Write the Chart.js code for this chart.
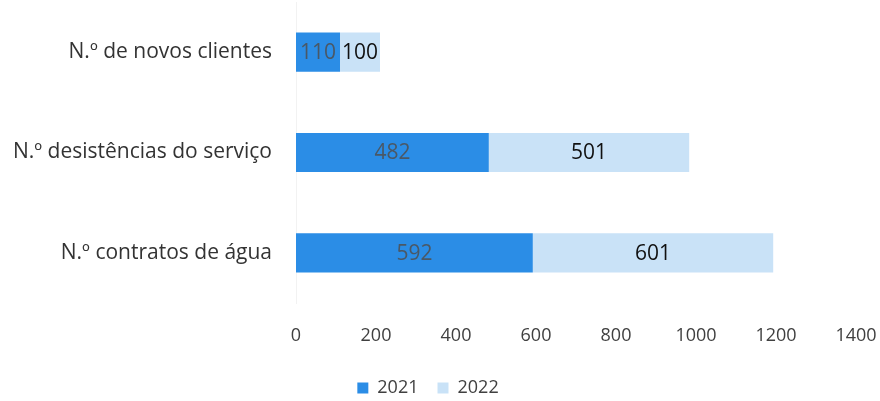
<!DOCTYPE html>
<html>
<head>
<meta charset="utf-8">
<script src="https://cdn.jsdelivr.net/npm/chart.js@4"></script>
<style>
  html, body { margin: 0; padding: 0; background: #fff; }
  #wrap { width: 880px; height: 401px; position: relative; }
</style>
</head>
<body>
<div id="wrap"><canvas id="chart"></canvas></div>
<script>
// Indicadores de clientes — 2021 vs 2022

const categories = ['N.º de novos clientes', 'N.º desistências do serviço', 'N.º contratos de água'];
const values2021 = [110, 482, 592];
const values2022 = [100, 501, 601];
const xTicks     = [0, 200, 400, 600, 800, 1000, 1200, 1400];

const FONT = '"Open Sans", sans-serif';

// rótulos de valor dentro de cada segmento
const valueLabels = {
  id: 'valueLabels',
  afterDatasetsDraw(chart) {
    const ctx = chart.ctx;
    ctx.save();
    ctx.font = '21px ' + FONT;
    ctx.textAlign = 'center';
    ctx.textBaseline = 'middle';
    chart.data.datasets.forEach((ds, di) => {
      const meta = chart.getDatasetMeta(di);
      meta.data.forEach((bar, i) => {
        const x = (bar.x + bar.base) / 2;
        ctx.fillStyle = ds.labelColor;
        ctx.fillText(String(ds.data[i]), x, bar.y + 1);
      });
    });
    ctx.restore();
  }
};

// legenda mais baixa: mantém o espaçamento entre itens, corta a margem de baixo
const legendHeight = {
  id: 'legendHeight',
  beforeInit(chart) {
    const lg = chart.legend;
    if (!lg) return;
    const fit = lg.fit.bind(lg);
    lg.fit = function () { fit(); this.height = 41; };
  }
};

new Chart(document.getElementById('chart'), {
  type: 'bar',
  data: {
    labels: categories,
    datasets: [
      { label: '2021', data: values2021, backgroundColor: '#2b8de6', labelColor: '#4a5866' },
      { label: '2022', data: values2022, backgroundColor: '#c9e2f7', labelColor: '#111111' },
    ],
  },
  options: {
    indexAxis: 'y',
    responsive: true, maintainAspectRatio: false,
    animation: false,
    layout: { padding: { top: 2, right: 24, left: 0, bottom: 0 } },
    datasets: { bar: { categoryPercentage: 1, barPercentage: 0.39 } },
    plugins: {
      legend: {
        position: 'bottom',
        labels: {
          color: '#404040', font: { family: FONT, size: 18 },
          boxWidth: 11, boxHeight: 11, padding: 19,
        },
      },
      tooltip: { enabled: false },
    },
    scales: {
      x: {
        stacked: true, min: 0, max: 1400,
        afterBuildTicks: s => { s.ticks = xTicks.map(v => ({ value: v })); },
        afterFit: s => { s.height = 57; s.paddingLeft = 0; s.paddingRight = 0; },
        grid: { display: false, drawTicks: false },
        border: { display: false },
        ticks: { color: '#404040', font: { family: FONT, size: 18 }, padding: 22, callback: v => String(v) },
      },
      y: {
        stacked: true,
        afterFit: s => { s.width = 296; s.paddingTop = 0; s.paddingBottom = 0; },
        grid: { display: false, drawTicks: false },
        border: { display: true, color: '#f2f2f2' },
        ticks: { color: '#333333', font: { family: FONT, size: 21 }, padding: 24 },
      },
    },
  },
  plugins: [valueLabels, legendHeight],
});
</script>
</body>
</html>
